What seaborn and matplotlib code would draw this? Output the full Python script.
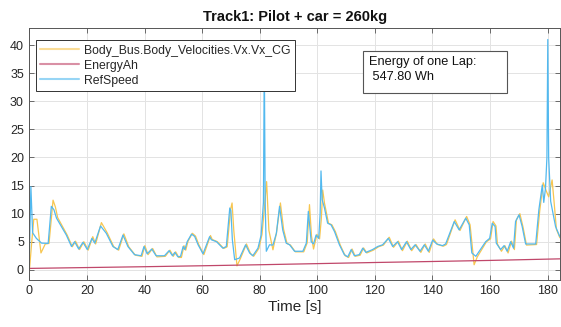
import matplotlib
matplotlib.use("Agg")
import matplotlib.pyplot as plt
import matplotlib.patches as mpatches
import seaborn as sns
import pandas as pd

# ---------------- data ----------------
ref_t = [0, 0.5, 1.1, 2.4, 4.2, 6.5, 7.6, 8.5, 9.4, 11.1, 12.8, 14.6, 15.7, 17.1, 18.6, 20.1,
         21.7, 22.7, 24.7, 26.7, 29, 30.7, 32.5, 34.2, 36.5, 38.8, 39.8, 40.9, 42.5, 44.0, 46.9,
         48.5, 49.7, 50.5, 51.6, 52.5, 53.4, 54, 54.8, 56.3, 57.4, 58.6, 60.3, 62.6, 63.2, 65,
         67.2, 68.4, 69.6, 70.0, 70.5, 71.3, 73, 75.1, 76.5, 77.6, 79.4, 80.5, 81.3, 81.6, 81.9,
         82.3, 83.4, 84.6, 85.8, 86.9, 88.0, 89.2, 90.4, 92.1, 95, 96.2, 96.9, 97.9, 98.7, 99.6,
         100.5, 101.0, 101.3, 101.7, 102.5, 103.6, 104.8, 106, 107.7, 109.4, 110.6, 111.8, 112.9,
         114.6, 115.8, 116.9, 119.2, 121, 122.7, 124.7, 126.2, 127.9, 129.3, 131, 132.5, 134,
         135.7, 137.2, 138.6, 140.1, 141.5, 143.5, 144.6, 147.6, 149.3, 151.6, 152.8, 153.7,
         155.1, 158.5, 159.9, 160.8, 161.8, 162.2, 163.7, 164.9, 166, 167.2, 168.2, 168.9, 170.1,
         171.2, 172.4, 175.9, 177, 178.2, 178.7, 179.3, 179.8, 180.1, 180.4, 181.1, 182.8, 184.3]
ref_v = [3.0, 14.8, 6.6, 5.6, 4.75, 4.7, 11.3, 10.7, 9.2, 7.7, 6.2, 4.15, 5.0, 3.7, 4.9, 3.6,
         5.6, 4.75, 7.8, 6.5, 4.15, 3.6, 6.2, 4.15, 2.7, 2.5, 4.15, 2.85, 3.7, 2.5, 2.5,
         3.4, 2.5, 3.1, 2.3, 2.4, 4.15, 3.6, 5.0, 6.35, 5.95, 4.45, 2.85, 5.9, 5.35, 5.0,
         3.85, 4.15, 11.0, 10.5, 5.35, 1.8, 2.1, 4.45, 3.0, 2.5, 3.85, 6.2, 12.0, 38.0, 12.0,
         3.3, 4.45, 4.4, 6.5, 11.3, 7.1, 4.75, 4.45, 3.3, 3.3, 4.75, 10.4, 5.0, 4.6, 6.2,
         5.6, 10.0, 17.6, 12.5, 11.0, 8.3, 8.0, 6.8, 4.45, 2.7, 2.3, 3.6, 2.5,
         2.7, 3.85, 3.1, 3.6, 4.15, 4.45, 5.6, 4.15, 5.0, 3.6, 5.0, 3.6, 4.45,
         3.3, 4.45, 3.3, 5.3, 4.6, 4.3, 4.6, 8.6, 7.1, 9.2, 8.0, 3.0,
         2.4, 5.0, 5.6, 8.3, 7.7, 4.75, 3.6, 4.3, 3.3, 5.0, 3.85, 8.6, 9.8,
         7.7, 4.6, 4.6, 10.7, 15.1, 12.0, 14.5, 20.0, 41.0, 20.0, 12.2, 7.7, 5.9]

vx_t = [0, 0.8, 1.5, 2.6, 4.0, 5.5, 6.8, 8.2, 9.0, 9.8, 11.4, 13.1, 14.9, 16.0, 17.4, 18.9,
        20.4, 22.0, 23.0, 25.0, 27.0, 29.3, 31.0, 32.8, 34.5, 36.8, 39.1, 40.1, 41.2, 42.8,
        44.3, 47.2, 48.8, 50.0, 50.8, 51.9, 52.8, 53.7, 54.3, 55.1, 56.6, 57.7, 58.9, 60.6,
        62.9, 63.5, 65.3, 67.5, 68.7, 69.9, 70.4, 71.0, 72.1, 73.3, 75.4, 76.8, 77.9, 79.7,
        80.8, 81.8, 82.4, 83.2, 84.6, 85.8, 87.2, 88.3, 89.5, 90.7, 92.4, 95.3, 96.5, 97.3,
        98.0, 98.7, 99.9, 100.8, 101.4, 101.9, 102.5, 103.9, 105.1, 106.3, 108.0, 109.7,
        110.9, 112.1, 113.2, 114.9, 116.1, 117.2, 119.5, 121.3, 123.0, 125.0, 126.5, 128.2,
        129.6, 131.3, 132.8, 134.3, 136.0, 137.5, 138.9, 140.4, 141.8, 143.8, 144.9, 147.9,
        149.6, 151.9, 153.1, 154.5, 155.6, 158.8, 160.2, 161.1, 162.1, 162.6, 164.0, 165.2,
        166.3, 167.5, 168.5, 169.2, 170.4, 171.5, 172.7, 176.2, 177.3, 178.5, 179.6, 180.4,
        181.6, 182.3, 183.1, 184.3]
vx_v = [0.0, 5.0, 9.0, 9.0, 3.0, 4.6, 4.7, 12.4, 11.2, 9.3, 7.8, 6.2, 4.1, 5.1, 3.6, 5.0,
        3.5, 5.9, 4.6, 8.4, 6.6, 4.1, 3.5, 6.4, 4.1, 2.6, 2.4, 4.3, 2.7, 3.8,
        2.3, 2.4, 3.5, 2.4, 3.2, 2.2, 2.2, 4.3, 3.5, 5.1, 6.5, 6.0, 4.4, 2.7,
        6.1, 5.4, 5.0, 3.8, 4.1, 10.8, 11.9, 7.0, 0.7, 2.0, 4.6, 2.9, 2.4, 3.8,
        6.3, 12.0, 15.7, 7.0, 3.56, 6.5, 11.9, 7.2, 4.7, 4.4, 3.2, 3.2, 4.8, 11.6,
        6.0, 3.7, 6.3, 5.5, 9.0, 14.2, 11.9, 8.3, 8.0, 6.8, 4.4, 2.5,
        2.2, 3.7, 2.4, 2.6, 3.9, 3.0, 3.5, 4.1, 4.4, 5.8, 4.0, 5.1,
        3.4, 5.1, 3.4, 4.5, 3.1, 4.6, 3.1, 5.5, 4.5, 4.2, 4.5, 8.9,
        7.0, 9.5, 8.0, 0.9, 2.3, 5.0, 5.5, 8.6, 7.8, 4.6, 3.3, 4.3,
        3.0, 5.1, 3.6, 8.9, 10.0, 7.6, 4.4, 4.5, 10.5, 15.5, 14.0, 13.0,
        16.0, 12.0, 7.2, 5.7]

en_t = [0, 20, 40, 60, 80, 100, 120, 140, 160, 184.3]
en_v = [0.25, 0.4, 0.55, 0.72, 0.9, 1.1, 1.3, 1.48, 1.67, 1.95]

series_names = ["Body_Bus.Body_Velocities.Vx.Vx_CG", "EnergyAh", "RefSpeed"]
colors = ["#F7C650", "#C0476A", "#52B9EF"]

title = "Track1: Pilot + car = 260kg"
xlabel = "Time [s]"
annot_lines = ["Energy of one Lap:", " 547.80 Wh"]
xticks = [0, 20, 40, 60, 80, 100, 120, 140, 160, 180]
yticks = [0, 5, 10, 15, 20, 25, 30, 35, 40]

# ---------------- plot ----------------
sns.set_theme(style="whitegrid")
plt.rcParams["font.family"] = ["Liberation Sans", "DejaVu Sans"]

df = pd.concat([
    pd.DataFrame({"t": vx_t, "v": vx_v, "s": series_names[0]}),
    pd.DataFrame({"t": en_t, "v": en_v, "s": series_names[1]}),
    pd.DataFrame({"t": ref_t, "v": ref_v, "s": series_names[2]}),
], ignore_index=True)

fig = plt.figure(figsize=(5.61, 3.27), dpi=100)
ax = fig.add_axes([0.0525, 0.144, 0.9455, 0.7695])
ax.set_facecolor("white")

sns.lineplot(data=df, x="t", y="v", hue="s", palette=dict(zip(series_names, colors)),
             hue_order=series_names, sort=False, estimator=None, linewidth=0.9, ax=ax)

ax.set_xlim(0, 184.3)
ax.set_ylim(-1.8, 43)
ax.set_xticks(xticks)
ax.set_yticks(yticks)
ax.grid(True, color="#E3E3E3", linewidth=0.7)
for sp in ax.spines.values():
    sp.set_color("#555555")
    sp.set_linewidth(0.7)
ax.tick_params(direction="in", length=3.5, width=0.6, color="#555555",
               top=True, right=True, bottom=True, left=True,
               labelsize=9, labelcolor="#262626", pad=4)
ax.set_title(title, fontsize=10.5, fontweight="bold", color="#111111", pad=5)
ax.set_xlabel(xlabel, fontsize=11, color="#262626", labelpad=2)
ax.set_ylabel("")

leg = ax.legend(loc="upper left", bbox_to_anchor=(0.012, 0.952), fontsize=8.8,
                frameon=True, fancybox=False, borderpad=0.35, labelspacing=0.25,
                handlelength=3.2, handletextpad=0.4, borderaxespad=0.0)
leg.get_frame().set_edgecolor("#333333")
leg.get_frame().set_linewidth(0.7)
leg.get_frame().set_alpha(1.0)
for line in leg.get_lines():
    line.set_linewidth(1.5)
    line.set_alpha(0.6)

# annotation box (fixed size like MATLAB's annotation textbox)
ax.add_patch(mpatches.Rectangle((0.628, 0.743), 0.272, 0.167, transform=ax.transAxes,
                                facecolor="white", edgecolor="#555555", linewidth=0.8,
                                zorder=5))
ax.text(0.641, 0.888, "\n".join(annot_lines), transform=ax.transAxes, fontsize=9.2,
        color="#111111", va="top", ha="left", linespacing=1.3, zorder=6)

fig.savefig("out.png", dpi=100)
